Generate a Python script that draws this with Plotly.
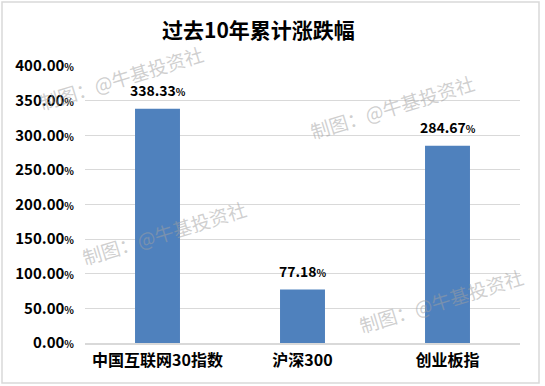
import plotly.graph_objects as go

categories = ["中国互联网30指数", "沪深300", "创业板指"]
values = [338.33, 77.18, 284.67]
tick_vals = [0, 50, 100, 150, 200, 250, 300, 350, 400]
title_text = "过去10年累计涨跌幅"
watermark = "制图：@牛基投资社"

FONT = "Noto Sans CJK SC"
pct = lambda v: f"<b>{v:.2f}<span style='font-size:10px'>%</span></b>"

fig = go.Figure()
fig.add_trace(go.Bar(
    x=categories, y=values, width=0.31,
    marker=dict(color="#4f81bd", line=dict(width=0)),
    hoverinfo="skip",
))

annotations = []
for c, v in zip(categories, values):
    annotations.append(dict(
        x=c, y=v, xref="x", yref="y", text=pct(v), showarrow=False,
        yshift=19, font=dict(family=FONT, size=14, color="#000000"),
    ))

# title
annotations.append(dict(
    x=(258 - 85) / 435, y=(343 - 29) / 277, xref="paper", yref="paper",
    xanchor="center", yanchor="middle",
    text=f"<b>{title_text}</b>", showarrow=False,
    font=dict(family=FONT, size=21, color="#000000"),
))

# watermarks (pixel centres converted to paper coords)
for px, py in [(121, 77), (164, 232), (392, 106), (441, 300)]:
    annotations.append(dict(
        x=(px - 85) / 435, y=(343 - py) / 277, xref="paper", yref="paper",
        xanchor="center", yanchor="middle",
        text=watermark, showarrow=False, textangle=-17,
        font=dict(family=FONT, size=19, color="rgba(160,160,160,0.5)"),
    ))

fig.update_layout(
    width=545, height=386,
    margin=dict(l=85, r=25, t=66, b=43),
    paper_bgcolor="#ffffff", plot_bgcolor="#ffffff",
    showlegend=False,
    bargap=0.69,
    font=dict(family=FONT, color="#000000"),
    xaxis=dict(
        showgrid=False, showline=True, linecolor="#d9d9d9", linewidth=1.5,
        ticks="", tickfont=dict(family=FONT, size=16, color="#000000"),
        ticklabelstandoff=2,
        tickvals=categories, ticktext=[f"<b>{c}</b>" for c in categories],
    ),
    yaxis=dict(
        range=[0, 400], tickvals=tick_vals,
        ticktext=[pct(v) for v in tick_vals],
        showgrid=True, gridcolor="#d9d9d9", gridwidth=1,
        zeroline=False, showline=False, ticks="",
        tickfont=dict(family=FONT, size=15, color="#000000"),
        ticklabelstandoff=10,
    ),
    annotations=annotations,
    shapes=[dict(
        type="rect", xref="paper", yref="paper",
        x0=(2 - 85) / 435, x1=(539 - 85) / 435,
        y0=(343 - 383) / 277, y1=(343 - 2) / 277,
        line=dict(color="#d9d9d9", width=1.5), fillcolor="rgba(0,0,0,0)",
        layer="below",
    )],
)

fig.write_html("out.html", config={"displayModeBar": False},
               post_script="document.body.style.margin='0px';")
